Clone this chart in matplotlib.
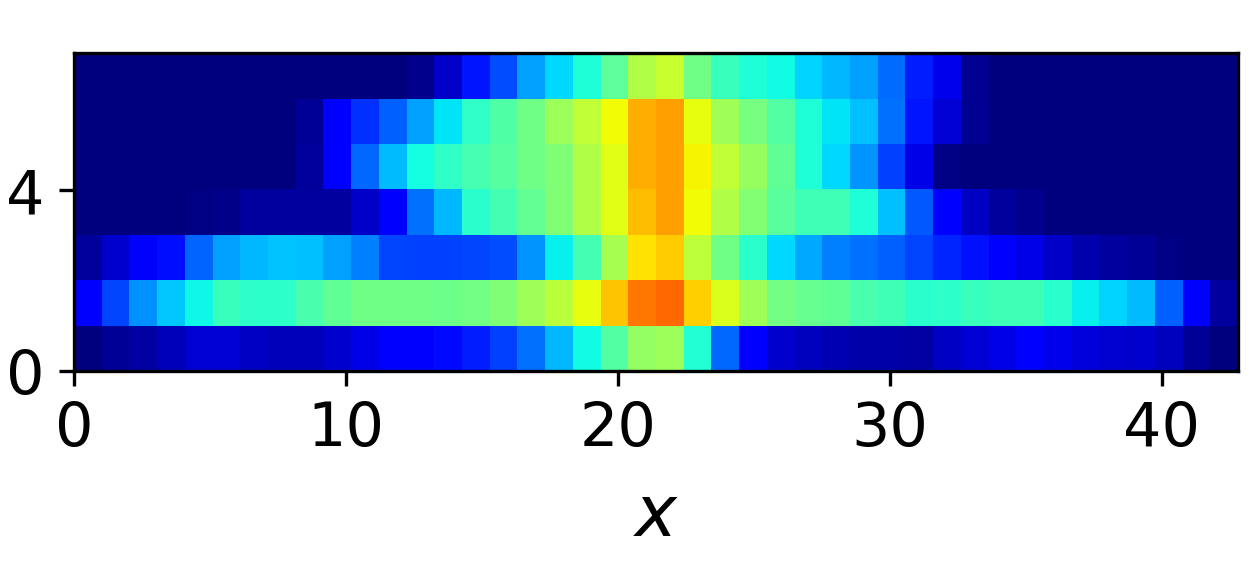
import numpy as np
import matplotlib
matplotlib.use('Agg')
import matplotlib.pyplot as plt

# rows from the bottom of the plot to the top, 42 cells each
row0 = [.003, .02, .035, .052, .077, .077, .062, .052, .052, .069, .09, .11, .11, .133, .156, .188, .235, .305, .372, .45, .53, .54, .392, .227, .11, .069, .055, .045, .038, .038, .035, .062, .077, .093, .11, .097, .08, .073, .069, .055, .02, .0]
row1 = [.11, .195, .266, .322, .37, .418, .405, .405, .44, .467, .486, .486, .486, .482, .492, .506, .544, .578, .63, .70, .783, .80, .69, .615, .544, .49, .476, .467, .44, .428, .40, .405, .418, .428, .428, .40, .36, .333, .31, .219, .11, .028]
row2 = [.024, .069, .11, .14, .223, .282, .305, .317, .313, .285, .25, .195, .188, .188, .192, .203, .27, .36, .433, .552, .668, .694, .58, .486, .40, .337, .29, .25, .235, .219, .195, .164, .141, .11, .09, .065, .041, .028, .02, .007, .001, .0]
row3 = [.0, .0, .0, .0, .004, .01, .028, .028, .028, .028, .065, .11, .235, .305, .40, .433, .47, .506, .564, .622, .71, .741, .642, .564, .51, .46, .428, .428, .389, .313, .212, .11, .062, .024, .014, .0, .0, .0, .0, .0, .0, .0]
row4 = [.0, .0, .0, .0, .0, .0, .0, .0, .024, .11, .227, .31, .375, .408, .436, .455, .486, .506, .564, .622, .724, .741, .65, .583, .534, .467, .389, .337, .27, .188, .09, .007, .0, .0, .0, .0, .0, .0, .0, .0, .0, .0]
row5 = [.0, .0, .0, .0, .0, .0, .0, .0, .02, .11, .172, .219, .282, .349, .408, .447, .486, .54, .583, .642, .724, .741, .63, .544, .496, .452, .389, .349, .313, .235, .148, .077, .018, .0, .0, .0, .0, .0, .0, .0, .0, .0]
row6 = [.0, .0, .0, .0, .0, .0, .0, .0, .0, .0, .0, .0, .015, .065, .148, .203, .282, .337, .389, .462, .564, .59, .486, .42, .39, .372, .333, .305, .282, .231, .156, .095, .018, .0, .0, .0, .0, .0, .0, .0, .0, .0]

x_max = 42.8
y_max = 7.03
x_ticks = [0, 10, 20, 30, 40]
y_ticks = [0, 4]

grid = np.array([row0, row1, row2, row3, row4, row5, row6])

fig = plt.figure(figsize=(1250/300, 580/300), dpi=300)
ax = fig.add_axes([74/1250, 1-371/580, (1238-74)/1250, (371-53)/580])

ax.imshow(grid, cmap='jet', vmin=0, vmax=1, origin='lower', aspect='auto',
          interpolation='nearest', extent=[0, x_max, 0, y_max])

ax.set_xticks(x_ticks)
ax.set_yticks(y_ticks)
ax.tick_params(labelsize=14.5)
ax.set_xlabel('$x$', fontsize=17, labelpad=5.5)

fig.savefig('out.png', dpi=300)
